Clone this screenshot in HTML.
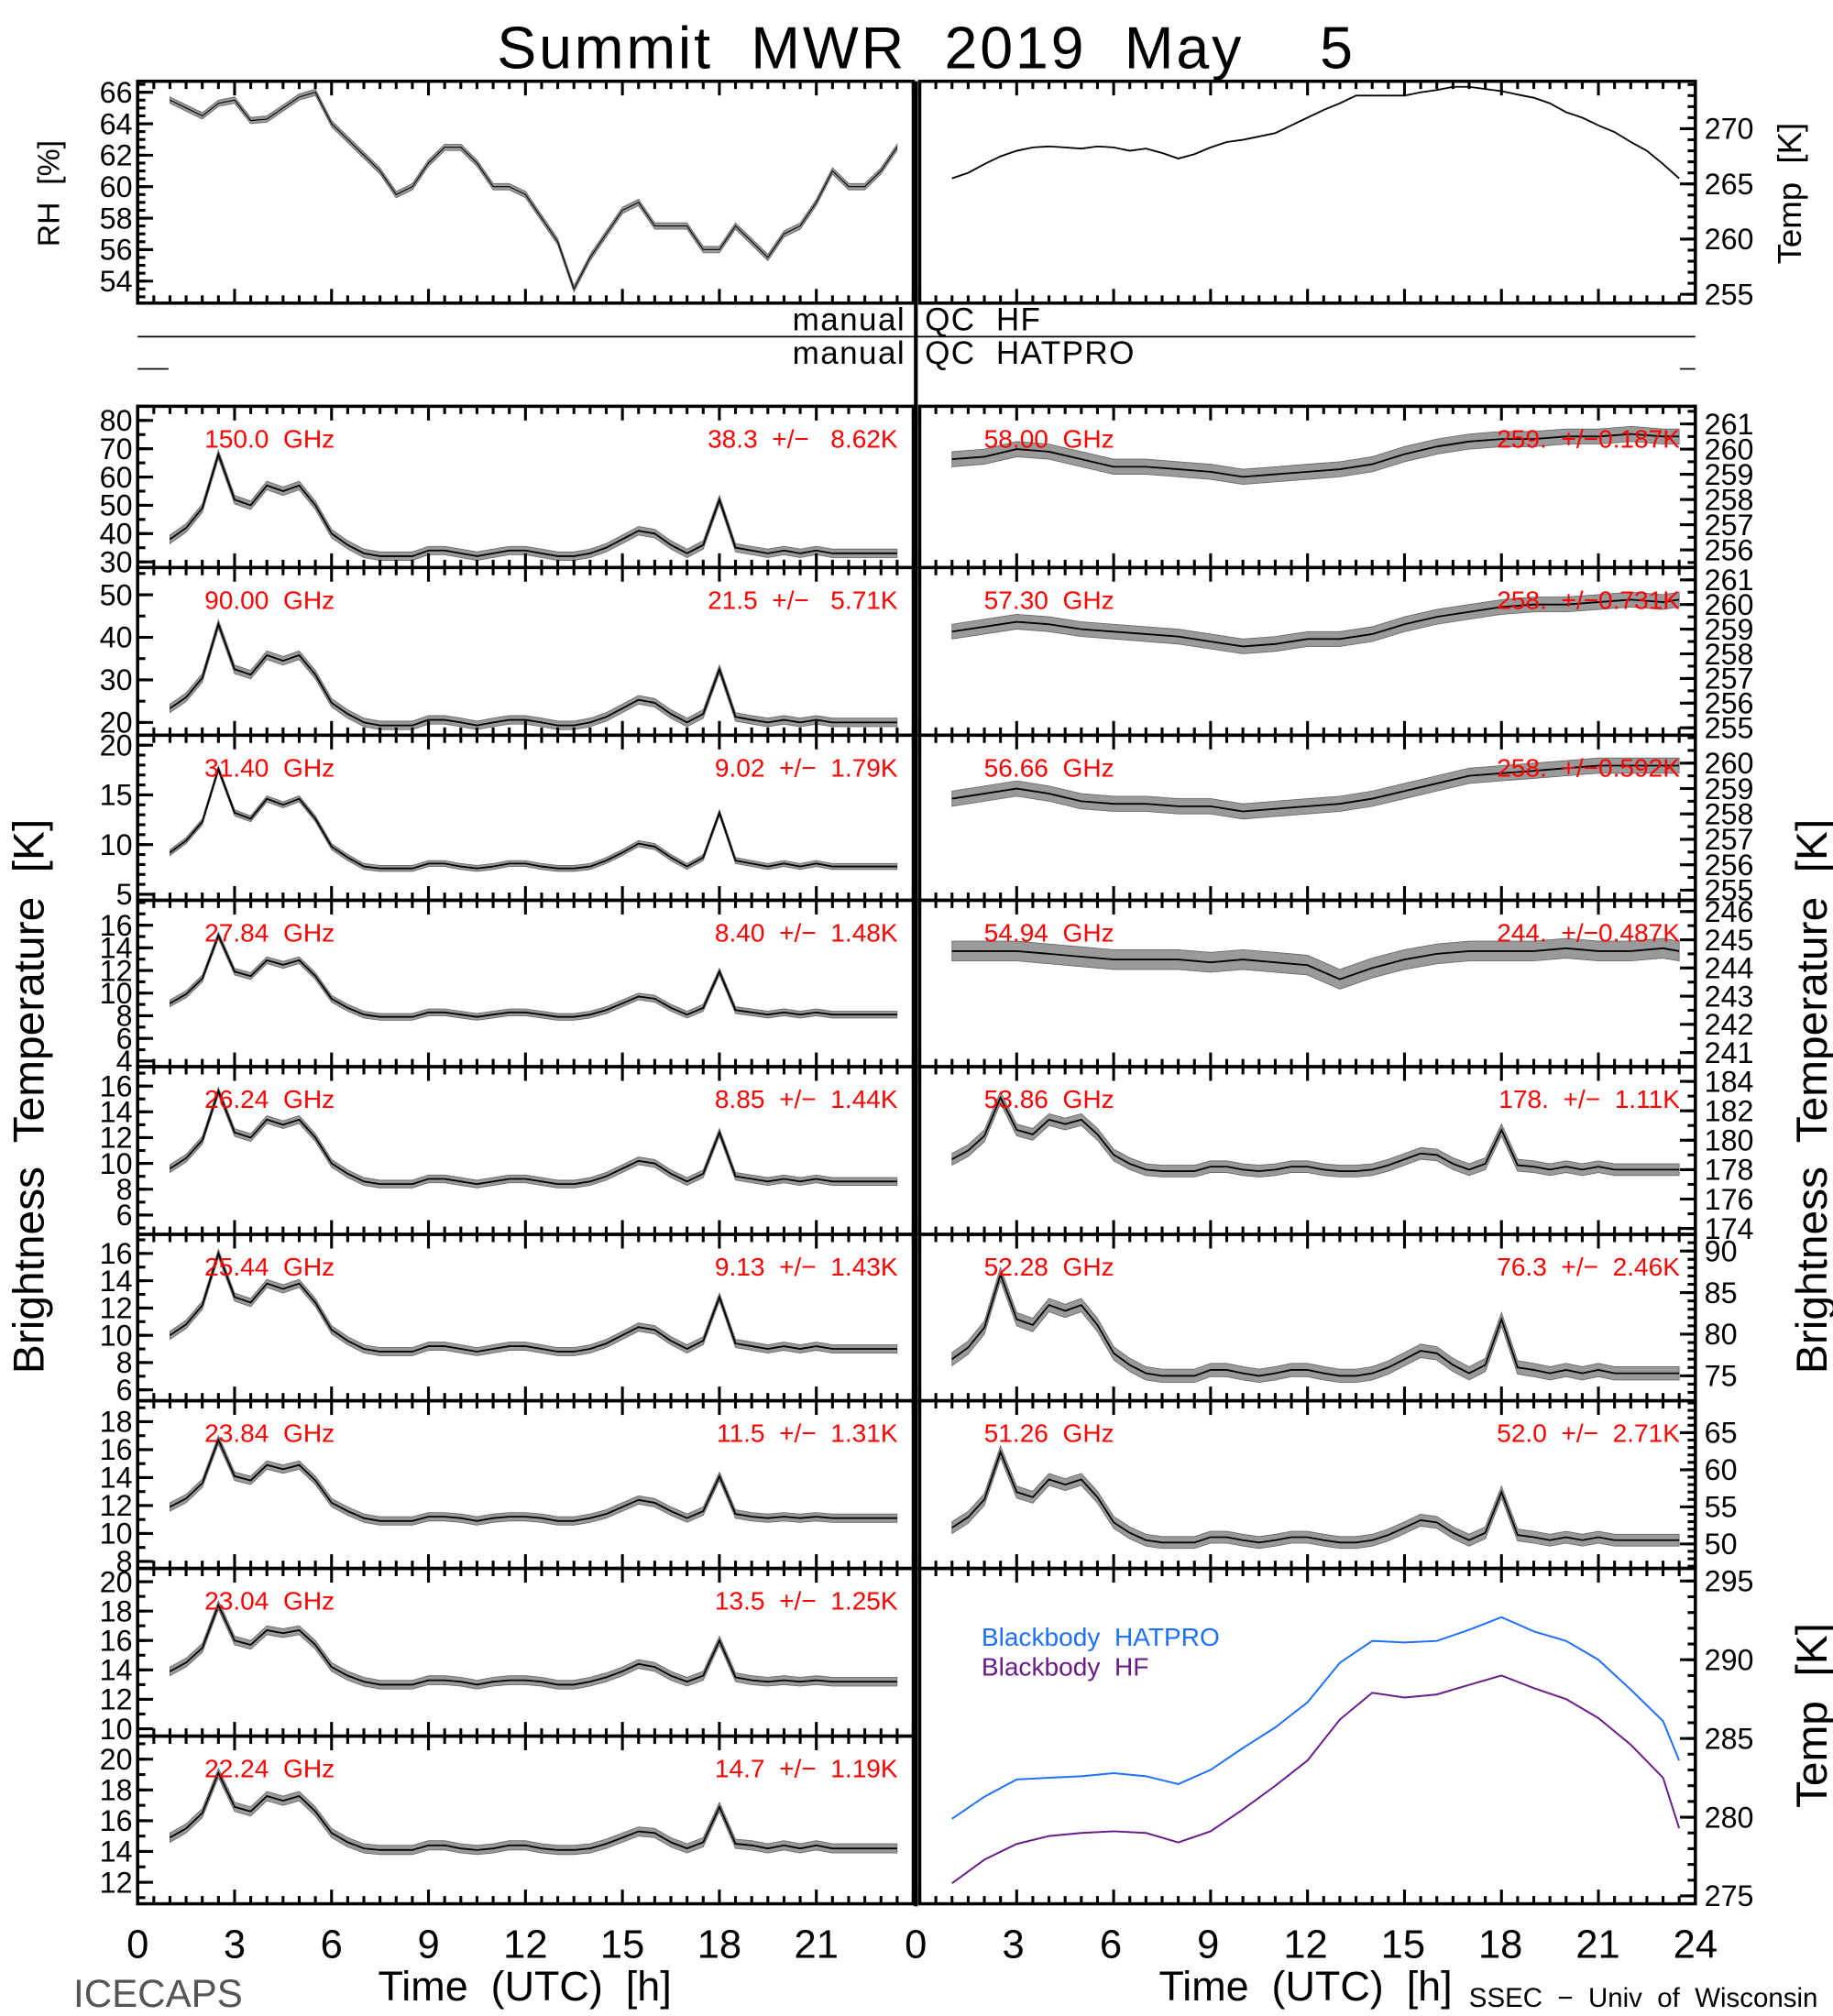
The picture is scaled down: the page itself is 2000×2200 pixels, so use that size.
<!DOCTYPE html>
<html><head><meta charset="utf-8">
<style>
html,body{margin:0;padding:0;background:#fff;}
svg{display:block;}
text{font-family:"Liberation Sans",sans-serif;white-space:pre;}
</style></head>
<body>
<svg id="chart" xmlns="http://www.w3.org/2000/svg" width="2000" height="2200" viewBox="0 0 1425 1563" preserveAspectRatio="none"></svg>
<script>
// ---------- data ----------
const T = [1,1.5,2,2.5,3,3.5,4,4.5,5,5.5,6,6.5,7,7.5,8,8.5,9,9.5,10,10.5,11,11.5,12,12.5,13,13.5,14,14.5,15,15.5,16,16.5,17,17.5,18,18.5,19,19.5,20,20.5,21,21.5,22,22.5,23,23.5];
const TH = [1,2,3,4,5,6,7,8,9,10,11,12,13,14,15,16,17,18,19,20,21,22,23,23.5];
const rhVals = [65.5,65,64.5,65.3,65.5,64.2,64.3,65,65.7,66,64,63,62,61,59.5,60,61.5,62.5,62.5,61.5,60,60,59.5,58,56.5,53.5,55.5,57,58.5,59,57.5,57.5,57.5,56,56,57.5,56.5,55.5,57,57.5,59,61,60,60,61,62.5];
const tempVals = [265.5,266,266.8,267.5,268,268.3,268.4,268.3,268.2,268.4,268.3,268,268.2,267.8,267.3,267.7,268.3,268.8,269,269.3,269.6,270.3,271,271.7,272.3,273,273,273,273,273.3,273.5,273.8,273.8,273.6,273.4,273.1,272.8,272.3,271.5,271,270.3,269.7,268.8,268,266.8,265.5];
const v150 = [38,42,49,68,52,50,57,55,57,50,40,36,33,32,32,32,34,34,33,32,33,34,34,33,32,32,33,35,38,41,40,36,33,36,52,35,34,33,34,33,34,33,33,33,33,33];
const v90 = [23.3,25.9,30.5,43.1,32.5,31.2,35.8,34.5,35.8,31.2,24.6,22,20,19.3,19.3,19.3,20.6,20.6,20,19.3,20,20.6,20.6,20,19.3,19.3,20,21.3,23.3,25.3,24.6,22,20,22,32.5,21.3,20.6,20,20.6,20,20.6,20,20,20,20,20];
const v3140 = [9.2,10.4,12.3,17.6,13.2,12.6,14.6,14,14.6,12.6,9.8,8.7,7.8,7.6,7.6,7.6,8.1,8.1,7.8,7.6,7.8,8.1,8.1,7.8,7.6,7.6,7.8,8.4,9.2,10.1,9.8,8.7,7.8,8.7,13.2,8.4,8.1,7.8,8.1,7.8,8.1,7.8,7.8,7.8,7.8,7.8];
const v2784 = [9.1,9.9,11.3,15.1,11.9,11.5,12.9,12.5,12.9,11.5,9.5,8.7,8.1,7.9,7.9,7.9,8.3,8.3,8.1,7.9,8.1,8.3,8.3,8.1,7.9,7.9,8.1,8.5,9.1,9.7,9.5,8.7,8.1,8.7,11.9,8.5,8.3,8.1,8.3,8.1,8.3,8.1,8.1,8.1,8.1,8.1];
const v2624 = [9.6,10.4,11.8,15.6,12.4,12.0,13.4,13.0,13.4,12.0,10.0,9.2,8.6,8.4,8.4,8.4,8.8,8.8,8.6,8.4,8.6,8.8,8.8,8.6,8.4,8.4,8.6,9.0,9.6,10.2,10.0,9.2,8.6,9.2,12.4,9.0,8.8,8.6,8.8,8.6,8.8,8.6,8.6,8.6,8.6,8.6];
const v2544 = [10.0,10.8,12.2,16.0,12.8,12.4,13.8,13.4,13.8,12.4,10.4,9.6,9.0,8.8,8.8,8.8,9.2,9.2,9.0,8.8,9.0,9.2,9.2,9.0,8.8,8.8,9.0,9.4,10.0,10.6,10.4,9.6,9.0,9.6,12.8,9.4,9.2,9.0,9.2,9.0,9.2,9.0,9.0,9.0,9.0,9.0];
const v2384 = [11.9,12.5,13.6,16.7,14.1,13.8,14.9,14.6,14.9,13.8,12.2,11.6,11.1,10.9,10.9,10.9,11.2,11.2,11.1,10.9,11.1,11.2,11.2,11.1,10.9,10.9,11.1,11.4,11.9,12.4,12.2,11.6,11.1,11.6,14.1,11.4,11.2,11.1,11.2,11.1,11.2,11.1,11.1,11.1,11.1,11.1];
const v2304 = [13.9,14.5,15.5,18.4,16.0,15.7,16.7,16.5,16.7,15.7,14.2,13.6,13.2,13.0,13.0,13.0,13.3,13.3,13.2,13.0,13.2,13.3,13.3,13.2,13.0,13.0,13.2,13.5,13.9,14.4,14.2,13.6,13.2,13.6,16.0,13.5,13.3,13.2,13.3,13.2,13.3,13.2,13.2,13.2,13.2,13.2];
const v2224 = [14.9,15.5,16.5,19.1,16.9,16.6,17.6,17.3,17.6,16.6,15.2,14.6,14.2,14.1,14.1,14.1,14.4,14.4,14.2,14.1,14.2,14.4,14.4,14.2,14.1,14.1,14.2,14.5,14.9,15.3,15.2,14.6,14.2,14.6,16.9,14.5,14.4,14.2,14.4,14.2,14.4,14.2,14.2,14.2,14.2,14.2];
const v5800 = [259.6,259.7,260.0,259.9,259.6,259.3,259.3,259.2,259.1,258.9,259.0,259.1,259.2,259.4,259.8,260.1,260.3,260.4,260.4,260.5,260.5,260.6,260.5,260.5];
const v5730 = [258.9,259.1,259.3,259.2,259.0,258.9,258.8,258.7,258.5,258.3,258.4,258.6,258.6,258.8,259.2,259.5,259.7,259.9,260.0,260.0,260.1,260.2,260.1,260.2];
const v5666 = [258.6,258.8,259.0,258.8,258.5,258.4,258.4,258.3,258.3,258.1,258.2,258.3,258.4,258.6,258.9,259.2,259.5,259.6,259.7,259.8,259.9,259.9,259.9,259.9];
const v5494 = [244.6,244.6,244.6,244.5,244.4,244.3,244.3,244.3,244.2,244.3,244.2,244.1,243.6,244.0,244.3,244.5,244.6,244.6,244.6,244.7,244.6,244.6,244.7,244.6];
const v5386 = [178.7,179.3,180.3,182.9,180.7,180.4,181.4,181.1,181.4,180.4,179.0,178.4,178.0,177.9,177.9,177.9,178.2,178.2,178.0,177.9,178.0,178.2,178.2,178.0,177.9,177.9,178.0,178.3,178.7,179.1,179.0,178.4,178.0,178.4,180.7,178.3,178.2,178.0,178.2,178.0,178.2,178.0,178.0,178.0,178.0,178.0];
const v5228 = [77.0,78.4,80.8,87.2,81.8,81.1,83.5,82.8,83.5,81.1,77.7,76.3,75.3,75.0,75.0,75.0,75.7,75.7,75.3,75.0,75.3,75.7,75.7,75.3,75.0,75.0,75.3,76.0,77.0,78.0,77.7,76.3,75.3,76.3,81.8,76.0,75.7,75.3,75.7,75.3,75.7,75.3,75.3,75.3,75.3,75.3];
const v5126 = [52.2,53.6,56.0,62.4,57.0,56.3,58.7,58.0,58.7,56.3,52.9,51.5,50.5,50.2,50.2,50.2,50.9,50.9,50.5,50.2,50.5,50.9,50.9,50.5,50.2,50.2,50.5,51.2,52.2,53.2,52.9,51.5,50.5,51.5,57.0,51.2,50.9,50.5,50.9,50.5,50.9,50.5,50.5,50.5,50.5,50.5];
const bbHatpro = [279.9,281.3,282.4,282.5,282.6,282.8,282.6,282.1,283.0,284.4,285.7,287.3,289.8,291.2,291.1,291.2,291.9,292.7,291.8,291.2,290.0,288.1,286.1,283.6];
const bbHF = [275.8,277.3,278.3,278.8,279.0,279.1,279.0,278.4,279.1,280.5,282.0,283.6,286.2,287.9,287.6,287.8,288.4,289.0,288.2,287.5,286.3,284.6,282.5,279.3];
const xTickLabels = [0,3,6,9,12,15,18,21];
const xTickLabelsR = [0,3,6,9,12,15,18,21,24];

const NS = "http://www.w3.org/2000/svg";
const svg = document.getElementById('chart');
function mk(tag, attrs, parent){
  const e = document.createElementNS(NS, tag);
  for (const k in attrs) e.setAttribute(k, attrs[k]);
  (parent||svg).appendChild(e);
  return e;
}
function txt(s, attrs, parent){ const e = mk('text', attrs, parent); e.textContent = s; return e; }

const LX0=107, LX1=710, RX0=712, RX1=1318;

function panel(p){
  const g = mk('g', {});
  
  
  const xs = t => p.x0 + t/24*(p.x1-p.x0);
  const ys = v => p.y1 - (v-p.ymin)/(p.ymax-p.ymin)*(p.y1-p.y0);
  p.series.forEach(s=>{
    const pts = s.t.map((t,i)=>xs(t).toFixed(1)+','+ys(s.v[i]).toFixed(1));
    if (s.noise){
      const up = s.t.map((t,i)=>xs(t).toFixed(1)+','+ys(s.v[i]+s.noise).toFixed(1));
      const dn = s.t.map((t,i)=>xs(t).toFixed(1)+','+ys(s.v[i]-s.noise).toFixed(1)).reverse();
      const band = mk('polygon', {points: up.concat(dn).join(' '), fill:'#9a9a9a', stroke:'#666', 'stroke-width':0.6}, g);
      
      
    }
    const line = mk('polyline', {points: pts.join(' '), fill:'none', stroke:s.color||'#000', 'stroke-width':s.w||1.3}, g);
    
    
  });
  const fr = mk('rect', {x:p.x0, y:p.y0, width:p.x1-p.x0, height:p.y1-p.y0, fill:'none', stroke:'#000', 'stroke-width':2.5}, g);
  
  
  for (let h=0; h<=24; h+=0.5){
    const x = xs(h); const L = (h%3===0)?11:6;
    mk('line', {x1:x, y1:p.y0, x2:x, y2:p.y0+L, stroke:'#000', 'stroke-width':2.2}, g);
    mk('line', {x1:x, y1:p.y1, x2:x, y2:p.y1-L, stroke:'#000', 'stroke-width':2.2}, g);
  }
  const ex = p.side==='left'? p.x0 : p.x1, dir = p.side==='left'? 1 : -1;
  if (p.minor){
    const start = Math.ceil(p.ymin/p.minor)*p.minor;
    for (let v=start; v<=p.ymax+1e-9; v+=p.minor){
      mk('line', {x1:ex, y1:ys(v), x2:ex+dir*6, y2:ys(v), stroke:'#000', 'stroke-width':2.2}, g);
    }
  }
  p.ticks.forEach(v=>{
    mk('line', {x1:ex, y1:ys(v), x2:ex+dir*12, y2:ys(v), stroke:'#000', 'stroke-width':2.2}, g);
    const lb = txt(String(v), {x: p.side==='left'? p.x0-4 : p.x1+7, y: ys(v)+8, 'font-size':23, 'text-anchor': p.side==='left'?'end':'start', fill:'#000'}, g);
    
    
  });
  if (p.label){
    const a = txt(p.label, {x: p.x0+(p.side==='left'?52:50), y: p.y0+32, 'font-size':20, fill:'#ff0000'}, g);
    
    
    const b = txt(p.stat, {x: p.x1-12, y: p.y0+32, 'font-size':20, fill:'#ff0000', 'text-anchor':'end'}, g);
    
    
  }
  return g;
}

const title = txt('Summit  MWR  2019  May    5', {x:720, y:53, 'font-size':46, 'text-anchor':'middle', 'letter-spacing':2});



panel({name:'rh-panel', x0:LX0, x1:LX1, y0:63, y1:235, ymin:52.6, ymax:66.7, ticks:[54,56,58,60,62,64,66], minor:0.5, side:'left',
  series:[{name:'rh-series', t:T, v:rhVals, noise:0.2, w:0.8}]});
panel({name:'temp-panel', x0:RX0+3, x1:RX1, y0:63, y1:235, ymin:254.2, ymax:274.3, ticks:[255,260,265,270], minor:1, side:'right',
  series:[{name:'temp-series', t:T, v:tempVals, w:1.3}]});

mk('line', {x1:LX0, y1:261, x2:RX1, y2:261, stroke:'#000', 'stroke-width':1.2});
mk('line', {x1:LX0, y1:286, x2:131, y2:286, stroke:'#000', 'stroke-width':1.2});
mk('line', {x1:1306, y1:286, x2:RX1, y2:286, stroke:'#000', 'stroke-width':1.2});
[['manual','QC  HF',256],['manual','QC  HATPRO',282]].forEach((q,i)=>{
  const a = txt(q[0], {x:704, y:q[2], 'font-size':25, 'text-anchor':'end', 'letter-spacing':1});
  
  
  const b = txt(q[1], {x:719, y:q[2], 'font-size':25, 'letter-spacing':1});
  
  
});

const rows = [315,440,570,698,827,957,1086,1216,1346,1476];
const left = [
  {name:'panel-150ghz', label:'150.0  GHz', stat:'38.3  +/−   8.62K', ymin:28, ymax:85, ticks:[30,40,50,60,70,80], minor:5, v:v150, n:1.5},
  {name:'panel-90ghz', label:'90.00  GHz', stat:'21.5  +/−   5.71K', ymin:17, ymax:56.4, ticks:[20,30,40,50], minor:5, v:v90, n:1},
  {name:'panel-31ghz', label:'31.40  GHz', stat:'9.02  +/−  1.79K', ymin:4.4, ymax:21, ticks:[5,10,15,20], minor:1, v:v3140, n:0.3},
  {name:'panel-27ghz', label:'27.84  GHz', stat:'8.40  +/−  1.48K', ymin:3.5, ymax:18.2, ticks:[4,6,8,10,12,14,16], minor:1, v:v2784, n:0.3},
  {name:'panel-26ghz', label:'26.24  GHz', stat:'8.85  +/−  1.44K', ymin:4.5, ymax:17.5, ticks:[6,8,10,12,14,16], minor:1, v:v2624, n:0.3},
  {name:'panel-25ghz', label:'25.44  GHz', stat:'9.13  +/−  1.43K', ymin:5.2, ymax:17.4, ticks:[6,8,10,12,14,16], minor:1, v:v2544, n:0.3},
  {name:'panel-23-84ghz', label:'23.84  GHz', stat:'11.5  +/−  1.31K', ymin:7.5, ymax:19.5, ticks:[8,10,12,14,16,18], minor:1, v:v2384, n:0.3},
  {name:'panel-23-04ghz', label:'23.04  GHz', stat:'13.5  +/−  1.25K', ymin:9.5, ymax:20.9, ticks:[10,12,14,16,18,20], minor:1, v:v2304, n:0.3},
  {name:'panel-22ghz', label:'22.24  GHz', stat:'14.7  +/−  1.19K', ymin:10.6, ymax:21.5, ticks:[12,14,16,18,20], minor:1, v:v2224, n:0.3}
];
left.forEach((c,i)=>{
  panel({name:c.name, x0:LX0, x1:LX1, y0:rows[i], y1:rows[i+1], ymin:c.ymin, ymax:c.ymax, ticks:c.ticks, minor:c.minor, side:'left',
    label:c.label, stat:c.stat, series:[{name:c.name+'-series', t:T, v:c.v, noise:c.n, w:1.3}]});
});
const right = [
  {name:'panel-58ghz', label:'58.00  GHz', stat:'259.  +/−0.187K', ymin:255.3, ymax:261.7, ticks:[256,257,258,259,260,261], minor:0.5, t:TH, v:v5800, n:0.3},
  {name:'panel-57ghz', label:'57.30  GHz', stat:'258.  +/−0.731K', ymin:254.7, ymax:261.5, ticks:[255,256,257,258,259,260,261], minor:0.5, t:TH, v:v5730, n:0.3},
  {name:'panel-56ghz', label:'56.66  GHz', stat:'258.  +/−0.592K', ymin:254.6, ymax:261.1, ticks:[255,256,257,258,259,260], minor:0.5, t:TH, v:v5666, n:0.3},
  {name:'panel-54ghz', label:'54.94  GHz', stat:'244.  +/−0.487K', ymin:240.5, ymax:246.4, ticks:[241,242,243,244,245,246], minor:0.5, t:TH, v:v5494, n:0.35},
  {name:'panel-53ghz', label:'53.86  GHz', stat:'178.  +/−  1.11K', ymin:173.6, ymax:185, ticks:[174,176,178,180,182,184], minor:1, t:T, v:v5386, n:0.4},
  {name:'panel-52ghz', label:'52.28  GHz', stat:'76.3  +/−  2.46K', ymin:72, ymax:92, ticks:[75,80,85,90], minor:1, t:T, v:v5228, n:0.8},
  {name:'panel-51ghz', label:'51.26  GHz', stat:'52.0  +/−  2.71K', ymin:46.7, ymax:69.3, ticks:[50,55,60,65], minor:1, t:T, v:v5126, n:0.8}
];
right.forEach((c,i)=>{
  panel({name:c.name, x0:RX0+3, x1:RX1, y0:rows[i], y1:rows[i+1], ymin:c.ymin, ymax:c.ymax, ticks:c.ticks, minor:c.minor, side:'right',
    label:c.label, stat:c.stat, series:[{name:c.name+'-series', t:c.t, v:c.v, noise:c.n, w:1.3}]});
});
panel({name:'blackbody-panel', x0:RX0+3, x1:RX1, y0:1216, y1:1476, ymin:274.5, ymax:295.8, ticks:[275,280,285,290,295], minor:1, side:'right',
  series:[{name:'blackbody-hatpro-line', t:TH, v:bbHatpro, color:'#1f6fff', w:1.4},{name:'blackbody-hf-line', t:TH, v:bbHF, color:'#6a1b8a', w:1.4}]});
const lg1 = txt('Blackbody  HATPRO', {x:763, y:1276, 'font-size':20, fill:'#1f6fff'});


const lg2 = txt('Blackbody  HF', {x:763, y:1299, 'font-size':20, fill:'#6a1b8a'});



mk('line', {x1:712, y1:63, x2:712, y2:1478, stroke:'#000', 'stroke-width':3});

xTickLabels.forEach(h=>{
  const l = txt(String(h), {x: LX0 + h/24*(LX1-LX0), y:1518, 'font-size':31, 'text-anchor':'middle'});
  
  
});
xTickLabelsR.forEach(h=>{
  const l = txt(String(h), {x: RX0 + h/24*(RX1-RX0), y:1518, 'font-size':31, 'text-anchor':'middle'});
  
  
});
const xt1 = txt('Time  (UTC)  [h]', {x:408, y:1551, 'font-size':32, 'text-anchor':'middle'});


const xt2 = txt('Time  (UTC)  [h]', {x:1015, y:1551, 'font-size':32, 'text-anchor':'middle'});


const ic = txt('ICECAPS', {x:57, y:1556, 'font-size':30, fill:'#555'});


const ss = txt('SSEC  −  Univ  of  Wisconsin', {x:1142, y:1556, 'font-size':21});



const yl = txt('Brightness  Temperature  [K]', {x:0, y:0, 'font-size':34, 'text-anchor':'middle', transform:'translate(34,850) rotate(-90)'});


const yr = txt('Brightness  Temperature  [K]', {x:0, y:0, 'font-size':34, 'text-anchor':'middle', transform:'translate(1420,850) rotate(-90)'});


const rh = txt('RH  [%]', {x:0, y:0, 'font-size':24, 'text-anchor':'middle', transform:'translate(46,150) rotate(-90)'});


const tk = txt('Temp  [K]', {x:0, y:0, 'font-size':26, 'text-anchor':'middle', transform:'translate(1400,150) rotate(-90)'});


const tb = txt('Temp  [K]', {x:0, y:0, 'font-size':34, 'text-anchor':'middle', transform:'translate(1420,1330) rotate(-90)'});


</script>
</body></html>
